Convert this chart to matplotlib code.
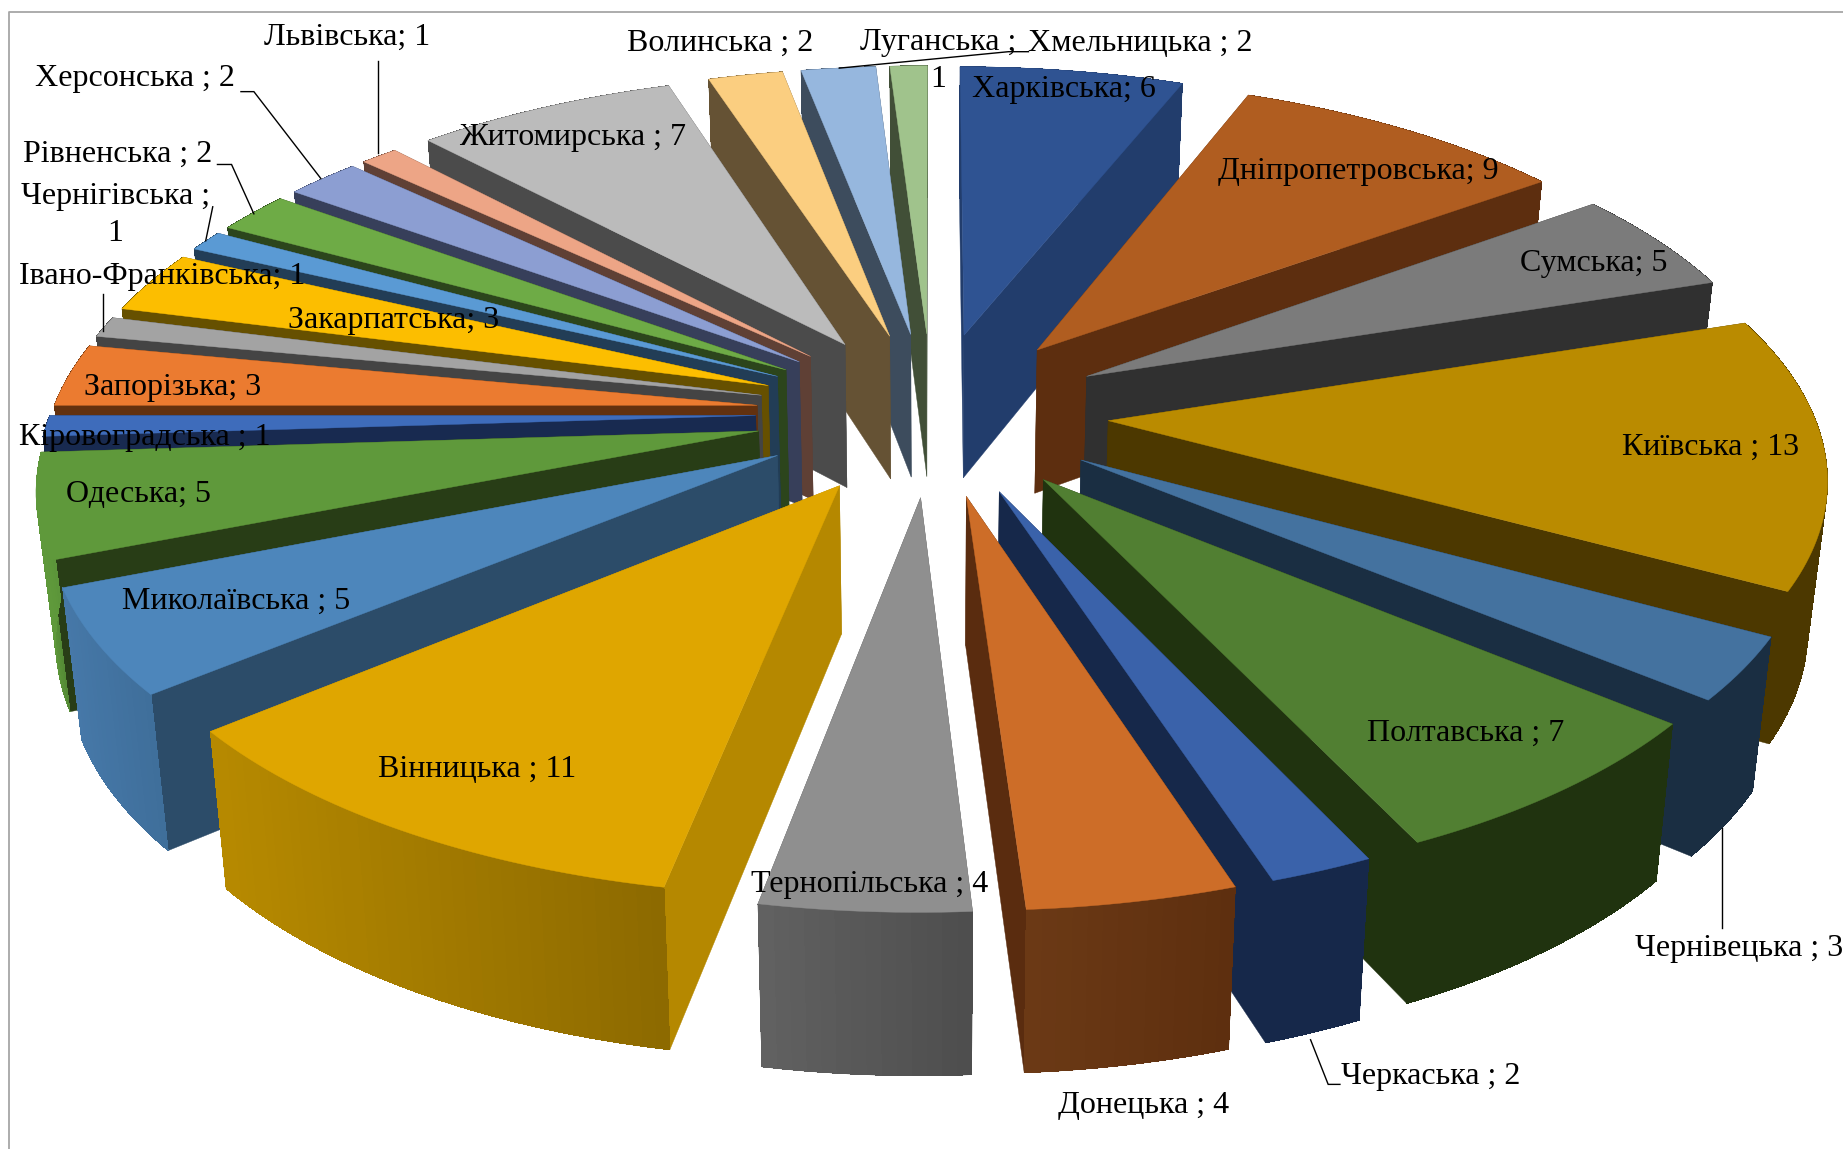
import numpy as np
import matplotlib
matplotlib.use('Agg')
import matplotlib.pyplot as plt
import matplotlib.colors as mcolors
from matplotlib.patches import Polygon
from matplotlib.collections import PolyCollection

plt.rcParams['font.family'] = ['Liberation Serif', 'DejaVu Serif']

# Slices clockwise from 12 o'clock
regions = ['Харківська', 'Дніпропетровська', 'Сумська', 'Київська', 'Чернівецька',
           'Полтавська', 'Черкаська', 'Донецька', 'Тернопільська', 'Вінницька',
           'Миколаївська', 'Одеська', 'Кіровоградська', 'Запорізька',
           'Івано-Франківська', 'Закарпатська', 'Чернігівська', 'Рівненська',
           'Херсонська', 'Львівська', 'Житомирська', 'Волинська', 'Хмельницька',
           'Луганська']
values = [6, 9, 5, 13, 3, 7, 2, 4, 4, 11, 5, 5, 1, 3, 1, 3, 1, 2, 2, 1, 7, 2, 2, 1]
separators = ['; ', '; ', '; ', ' ; ', ' ; ', ' ; ', ' ; ', ' ; ', ' ; ', ' ; ',
              ' ; ', '; ', ' ; ', '; ', '; ', '; ', ' ;\n', ' ; ', ' ; ', '; ',
              ' ; ', ' ; ', ' ; ', ' ;\n']

# face colours per slice
top_colors = ['#2F5392', '#B05D20', '#7B7B7B', '#BA8B00', '#44729F', '#517F32',
              '#3A62AA', '#CD6D28', '#8F8F8F', '#DFA600', '#4D86BB', '#5F993B',
              '#3E6CBB', '#EB7B30', '#A3A3A3', '#FCBE00', '#5A9AD4', '#6EAB46',
              '#8C9ED2', '#EDA586', '#BBBBBB', '#FBCE80', '#96B7DE', '#A0C38C']
side_colors = ['#223D6C', '#5D2E0F', '#303030', '#4C3800', '#1A2E42', '#20330F',
               '#16284A', '#5A2C0F', '#555555', '#B58800', '#2C4C69', '#283D16',
               '#182A50', '#62310F', '#444444', '#665000', '#223D56', '#2C451C',
               '#373F5A', '#5F4035', '#4B4B4B', '#655234', '#3D4C5D', '#414F37']
rim_start = ['#223D6C', '#5D2E0F', '#303030', '#4C3800', '#1A2E42', '#20330F',
             '#16284A', '#5E2F0F', '#4E4E4E', '#8D6A00', '#3F6F9B', '#548A35',
             '#182A50', '#62310F', '#444444', '#665000', '#223D56', '#2C451C',
             '#373F5A', '#5F4035', '#4B4B4B', '#655234', '#3D4C5D', '#414F37']
rim_end = ['#223D6C', '#5D2E0F', '#303030', '#4C3800', '#1A2E42', '#20330F',
           '#16284A', '#6C3A16', '#626262', '#B78A00', '#4678A8', '#5F993B',
           '#182A50', '#62310F', '#444444', '#665000', '#223D56', '#2C451C',
           '#373F5A', '#5F4035', '#4B4B4B', '#655234', '#3D4C5D', '#414F37']

# label centres, in the 1568 wide layout
label_x = [905, 1156, 1356, 1455, 1480, 1247, 1217, 973, 740, 406, 201, 118, 123, 147,
           138, 335, 98, 100, 115, 295, 487, 613, 970, 798]
label_y = [76, 146, 224, 381, 807, 624, 916, 941, 753, 655, 512, 421, 372, 330,
           235, 273, 183, 131, 67, 32, 117, 37, 37, 52]

leaders = [
    [(205, 78), (216, 78), (273, 152)],
    [(185, 140), (197, 140), (216, 182)],
    [(181, 176), (175, 205)],
    [(88, 250), (88, 282)],
    [(322, 52), (322, 130)],
    [(875, 44), (858, 44), (714, 58)],
    [(1465, 705), (1465, 790)],
    [(1115, 885), (1130, 923), (1140, 923)],
]

# projection of the tilted disc
CX, CY = 793, 351.5
A, B = 600, 279
K = 0.144
EXPLODE = 0.25
THICK = 124
BOTTOM_X = 0.978


def project(X, Y, bottom=False):
    w = 1 + K * Y
    x = CX + A * X / w
    y = CY - B * Y / w
    if bottom:
        x = CX + (x - CX) * BOTTOM_X
        y = y + THICK / (1 + 0.6 * K * Y)
    return np.column_stack([x, y])


def draw_slice(ax, start, end, top, side, rim0, rim1):
    mid = (start + end) / 2
    ox, oy = EXPLODE * np.sin(mid), EXPLODE * np.cos(mid)
    t = np.linspace(start, end, max(int((end - start) * 60), 6))
    X = ox + np.sin(t)
    Y = oy + np.cos(t)
    apex_t = project(np.array([ox]), np.array([oy]))
    apex_b = project(np.array([ox]), np.array([oy]), bottom=True)
    rim_t = project(X, Y)
    rim_b = project(X, Y, bottom=True)

    # the two radial walls
    for i in (0, -1):
        wall = [apex_t[0], rim_t[i], rim_b[i], apex_b[0]]
        ax.add_patch(Polygon(wall, closed=True, facecolor=side, edgecolor=side, lw=0.3))

    # outer wall as thin strips so it can shade along the arc
    c0 = np.array(mcolors.to_rgb(rim0))
    c1 = np.array(mcolors.to_rgb(rim1))
    base = np.vstack([rim_t, rim_b[::-1]])
    ax.add_patch(Polygon(base, closed=True, facecolor=rim0, edgecolor=rim0, lw=0.3))
    lo, hi = rim_t[:, 0].min(), rim_t[:, 0].max()
    strips, cols = [], []
    for i in range(len(t) - 1):
        strips.append([rim_t[i], rim_t[i + 1], rim_b[i + 1], rim_b[i]])
        f = (rim_t[i, 0] - lo) / max(hi - lo, 1)
        cols.append(c1 + (c0 - c1) * f)
    ax.add_collection(PolyCollection(strips, facecolors=cols, edgecolors='none',
                                     antialiaseds=False))

    # top face
    face = np.vstack([apex_t, rim_t])
    ax.add_patch(Polygon(face, closed=True, facecolor=top, edgecolor=top, lw=0.3))


def main():
    fig = plt.figure(figsize=(18.43, 11.49), dpi=100)
    ax = fig.add_axes([0, 0, 1, 1])
    ax.set_xlim(0, 1568)
    ax.set_ylim(978, 0)
    ax.axis('off')

    # chart frame, only left and top are in the crop
    ax.plot([8, 8, 1568], [978, 10.5, 10.5], color='#A6A6A6', lw=1.3)

    vals = np.array(values, dtype=float)
    edges = np.concatenate([[0], np.cumsum(vals)]) / vals.sum() * 2 * np.pi
    mids = (edges[:-1] + edges[1:]) / 2

    # paint back slices first
    for i in np.argsort(-np.cos(mids)):
        draw_slice(ax, edges[i], edges[i + 1], top_colors[i], side_colors[i],
                   rim_start[i], rim_end[i])

    for pts in leaders:
        xs, ys = zip(*pts)
        ax.plot(xs, ys, color='black', lw=1.0, solid_joinstyle='miter')

    for name, val, sep, lx, ly in zip(regions, values, separators, label_x, label_y):
        ax.text(lx, ly, f"{name}{sep}{val}", ha='center', va='center', fontsize=23,
                color='black', linespacing=1.35)

    fig.savefig('out.png', dpi=100)


if __name__ == "__main__":
    main()
